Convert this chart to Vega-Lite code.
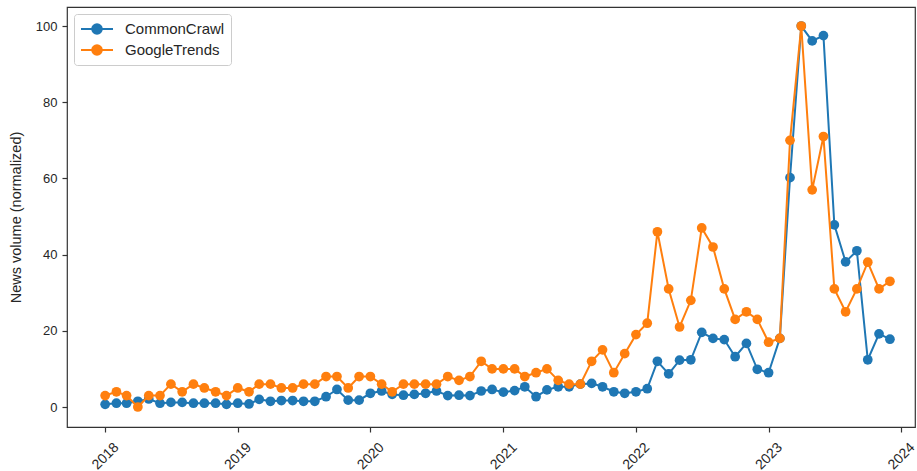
{
  "$schema": "https://vega.github.io/schema/vega-lite/v6.json",
  "width": 848,
  "height": 420,
  "autosize": {"type": "none"},
  "padding": {"left": 67, "top": 7, "right": 2, "bottom": 44},
  "background": "white",
  "config": {
    "font": "Liberation Sans",
    "view": {"stroke": "#333333", "strokeWidth": 1.2},
    "axis": {"labelColor": "#262626", "titleColor": "#262626", "tickColor": "#333333", "domain": false, "grid": false, "labelFont": "Liberation Sans", "titleFont": "Liberation Sans"}
  },
  "data": {"values": [
    {"month":"2018-01-01","CommonCrawl":0.7,"GoogleTrends":3},
    {"month":"2018-02-01","CommonCrawl":1.0,"GoogleTrends":4},
    {"month":"2018-03-01","CommonCrawl":1.0,"GoogleTrends":3},
    {"month":"2018-04-01","CommonCrawl":1.5,"GoogleTrends":0},
    {"month":"2018-05-01","CommonCrawl":2.1,"GoogleTrends":3},
    {"month":"2018-06-01","CommonCrawl":1.0,"GoogleTrends":3},
    {"month":"2018-07-01","CommonCrawl":1.2,"GoogleTrends":6},
    {"month":"2018-08-01","CommonCrawl":1.2,"GoogleTrends":4},
    {"month":"2018-09-01","CommonCrawl":1.0,"GoogleTrends":6},
    {"month":"2018-10-01","CommonCrawl":1.0,"GoogleTrends":5},
    {"month":"2018-11-01","CommonCrawl":1.0,"GoogleTrends":4},
    {"month":"2018-12-01","CommonCrawl":0.7,"GoogleTrends":3},
    {"month":"2019-01-01","CommonCrawl":1.0,"GoogleTrends":5},
    {"month":"2019-02-01","CommonCrawl":0.8,"GoogleTrends":4},
    {"month":"2019-03-01","CommonCrawl":2.0,"GoogleTrends":6},
    {"month":"2019-04-01","CommonCrawl":1.5,"GoogleTrends":6},
    {"month":"2019-05-01","CommonCrawl":1.7,"GoogleTrends":5},
    {"month":"2019-06-01","CommonCrawl":1.7,"GoogleTrends":5},
    {"month":"2019-07-01","CommonCrawl":1.5,"GoogleTrends":6},
    {"month":"2019-08-01","CommonCrawl":1.5,"GoogleTrends":6},
    {"month":"2019-09-01","CommonCrawl":2.7,"GoogleTrends":8},
    {"month":"2019-10-01","CommonCrawl":4.6,"GoogleTrends":8},
    {"month":"2019-11-01","CommonCrawl":1.8,"GoogleTrends":5},
    {"month":"2019-12-01","CommonCrawl":1.8,"GoogleTrends":8},
    {"month":"2020-01-01","CommonCrawl":3.6,"GoogleTrends":8},
    {"month":"2020-02-01","CommonCrawl":4.2,"GoogleTrends":6},
    {"month":"2020-03-01","CommonCrawl":3.3,"GoogleTrends":4},
    {"month":"2020-04-01","CommonCrawl":3.1,"GoogleTrends":6},
    {"month":"2020-05-01","CommonCrawl":3.3,"GoogleTrends":6},
    {"month":"2020-06-01","CommonCrawl":3.6,"GoogleTrends":6},
    {"month":"2020-07-01","CommonCrawl":4.2,"GoogleTrends":6},
    {"month":"2020-08-01","CommonCrawl":3.0,"GoogleTrends":8},
    {"month":"2020-09-01","CommonCrawl":3.1,"GoogleTrends":7},
    {"month":"2020-10-01","CommonCrawl":3.0,"GoogleTrends":8},
    {"month":"2020-11-01","CommonCrawl":4.2,"GoogleTrends":12},
    {"month":"2020-12-01","CommonCrawl":4.6,"GoogleTrends":10},
    {"month":"2021-01-01","CommonCrawl":3.9,"GoogleTrends":10},
    {"month":"2021-02-01","CommonCrawl":4.3,"GoogleTrends":10},
    {"month":"2021-03-01","CommonCrawl":5.3,"GoogleTrends":8},
    {"month":"2021-04-01","CommonCrawl":2.7,"GoogleTrends":9},
    {"month":"2021-05-01","CommonCrawl":4.5,"GoogleTrends":10},
    {"month":"2021-06-01","CommonCrawl":5.3,"GoogleTrends":7},
    {"month":"2021-07-01","CommonCrawl":5.3,"GoogleTrends":6},
    {"month":"2021-08-01","CommonCrawl":6.0,"GoogleTrends":6},
    {"month":"2021-09-01","CommonCrawl":6.2,"GoogleTrends":12},
    {"month":"2021-10-01","CommonCrawl":5.3,"GoogleTrends":15},
    {"month":"2021-11-01","CommonCrawl":4.0,"GoogleTrends":9},
    {"month":"2021-12-01","CommonCrawl":3.6,"GoogleTrends":14},
    {"month":"2022-01-01","CommonCrawl":4.0,"GoogleTrends":19},
    {"month":"2022-02-01","CommonCrawl":4.8,"GoogleTrends":22},
    {"month":"2022-03-01","CommonCrawl":12.0,"GoogleTrends":46},
    {"month":"2022-04-01","CommonCrawl":8.7,"GoogleTrends":31},
    {"month":"2022-05-01","CommonCrawl":12.3,"GoogleTrends":21},
    {"month":"2022-06-01","CommonCrawl":12.4,"GoogleTrends":28},
    {"month":"2022-07-01","CommonCrawl":19.6,"GoogleTrends":47},
    {"month":"2022-08-01","CommonCrawl":18.0,"GoogleTrends":42},
    {"month":"2022-09-01","CommonCrawl":17.7,"GoogleTrends":31},
    {"month":"2022-10-01","CommonCrawl":13.2,"GoogleTrends":23},
    {"month":"2022-11-01","CommonCrawl":16.7,"GoogleTrends":25},
    {"month":"2022-12-01","CommonCrawl":9.9,"GoogleTrends":23},
    {"month":"2023-01-01","CommonCrawl":9.0,"GoogleTrends":17},
    {"month":"2023-02-01","CommonCrawl":18.0,"GoogleTrends":18},
    {"month":"2023-03-01","CommonCrawl":60.2,"GoogleTrends":70},
    {"month":"2023-04-01","CommonCrawl":100,"GoogleTrends":100},
    {"month":"2023-05-01","CommonCrawl":96.1,"GoogleTrends":57},
    {"month":"2023-06-01","CommonCrawl":97.5,"GoogleTrends":71},
    {"month":"2023-07-01","CommonCrawl":47.8,"GoogleTrends":31},
    {"month":"2023-08-01","CommonCrawl":38.1,"GoogleTrends":25},
    {"month":"2023-09-01","CommonCrawl":41.0,"GoogleTrends":31},
    {"month":"2023-10-01","CommonCrawl":12.4,"GoogleTrends":38},
    {"month":"2023-11-01","CommonCrawl":19.2,"GoogleTrends":31},
    {"month":"2023-12-01","CommonCrawl":17.8,"GoogleTrends":33}
  ]},
  "transform": [{"fold": ["CommonCrawl", "GoogleTrends"], "as": ["source", "value"]}],
  "encoding": {
    "x": {"field": "month", "type": "temporal",
      "scale": {"type": "utc", "domain": [{"year": 2017, "month": 9, "date": 18, "utc": true}, {"year": 2024, "month": 2, "date": 8, "utc": true}]},
      "axis": {"title": null, "format": "%Y", "tickCount": {"interval": "year", "step": 1}, "labelAngle": -45, "labelAlign": "center", "labelBaseline": "middle", "labelPadding": 24, "labelFontSize": 14, "tickSize": 5, "tickWidth": 1.2, "labelOverlap": false, "labelFlush": false}},
    "y": {"field": "value", "type": "quantitative",
      "scale": {"domain": [-5.25, 105], "nice": false, "zero": false},
      "axis": {"title": "News volume (normalized)", "values": [0, 20, 40, 60, 80, 100], "labelFontSize": 13, "titleFontSize": 14.5, "titleFontWeight": "normal", "tickSize": 5, "tickWidth": 1.2, "labelPadding": 5, "titlePadding": 12}},
    "color": {"field": "source", "type": "nominal",
      "scale": {"domain": ["CommonCrawl", "GoogleTrends"], "range": ["#1f77b4", "#ff7f0e"]},
      "legend": {"title": null, "orient": "none", "legendX": 7, "legendY": 7, "labelFontSize": 15, "labelColor": "#262626", "labelFont": "Liberation Sans",
        "symbolType": "M-1,0L3,0M0.4,0a0.6,0.6 0 1,0 1.2,0a0.6,0.6 0 1,0 -1.2,0",
        "symbolSize": 256, "symbolStrokeWidth": 2, "rowPadding": 3, "labelOffset": 27,
        "strokeColor": "#cccccc", "cornerRadius": 3, "padding": 6, "fillColor": "white"}}
  },
  "layer": [
    {"transform": [{"filter": "datum.source === 'CommonCrawl'"}], "mark": {"type": "line", "strokeWidth": 2}},
    {"transform": [{"filter": "datum.source === 'CommonCrawl'"}], "mark": {"type": "point", "filled": true, "size": 95, "opacity": 1}},
    {"transform": [{"filter": "datum.source === 'GoogleTrends'"}], "mark": {"type": "line", "strokeWidth": 2}},
    {"transform": [{"filter": "datum.source === 'GoogleTrends'"}], "mark": {"type": "point", "filled": true, "size": 95, "opacity": 1}}
  ]
}
